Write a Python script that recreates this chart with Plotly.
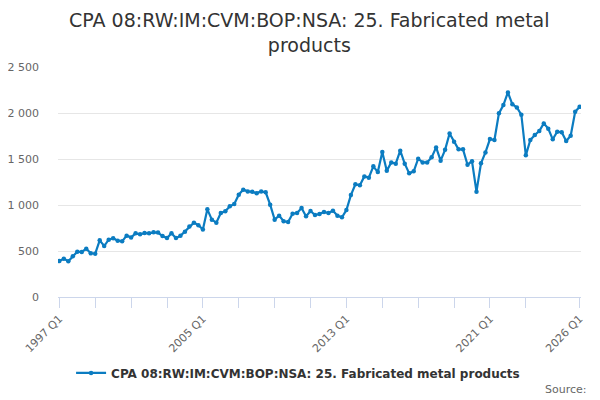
import plotly.graph_objects as go

title = "CPA 08:RW:IM:CVM:BOP:NSA: 25. Fabricated metal<br>products"
series_name = "CPA 08:RW:IM:CVM:BOP:NSA: 25. Fabricated metal products"

years = list(range(1997, 2027))
quarters = [f"{y} Q{q}" for y in years for q in range(1, 5)][:117]

values = [
    391, 417, 388, 442, 493, 489, 525, 475, 471, 616,
    554, 623, 638, 612, 605, 667, 648, 692, 681, 695,
    692, 703, 700, 662, 640, 692, 640, 665, 710, 765,
    808, 780, 734, 953, 841, 808, 913, 931, 986, 1011,
    1112, 1167, 1148, 1143, 1129, 1148, 1138, 1004, 841, 884,
    823, 815, 906, 913, 967, 877, 935, 891, 902, 924,
    913, 938, 884, 866, 945, 1108, 1226, 1215, 1311, 1297,
    1420, 1358, 1576, 1373, 1463, 1449, 1590, 1449, 1344, 1366,
    1503, 1463, 1463, 1518, 1626, 1482, 1600, 1777, 1688, 1605,
    1605, 1438, 1475, 1145, 1453, 1572, 1717, 1706, 1996, 2086,
    2224, 2094, 2061, 1981, 1540, 1706, 1761, 1804, 1887, 1830,
    1714, 1797, 1790, 1695, 1753, 2014, 2068,
]

labelled = ["1997 Q1", "2005 Q1", "2013 Q1", "2021 Q1", "2026 Q1"]
tick_quarters = quarters[0:105:8] + [quarters[-1]]
tick_text = [q if q in labelled else "" for q in tick_quarters]

font_family = "DejaVu Sans"
line_color = "#0b7cc1"

fig = go.Figure()
fig.add_trace(go.Scatter(
    x=quarters, y=values, mode="lines+markers", name=series_name,
    line=dict(color=line_color, width=2.2),
    marker=dict(color=line_color, size=4.5),
))

# page body has an 8px margin, so the figure is 592x392 to fill 600x400
fig.update_layout(
    width=592, height=392,
    margin=dict(l=50, r=19, t=59, b=103, autoexpand=False),
    paper_bgcolor="white", plot_bgcolor="white",
    separators=". ",
    font=dict(family=font_family, color="#666666", size=11),
    title=dict(
        text=title, xref="container", yref="container",
        x=0.509, xanchor="center", y=0.951, yanchor="middle",
        font=dict(family=font_family, size=19, color="#333333"),
    ),
    showlegend=True,
    legend=dict(
        orientation="h", xref="container", yref="container",
        x=0.49, xanchor="center", y=0.069, yanchor="middle",
        font=dict(family=font_family, size=12, color="#333333", weight="bold"),
    ),
    xaxis=dict(
        type="category", automargin=False,
        tickmode="array", tickvals=tick_quarters, ticktext=tick_text,
        tickangle=-45, ticks="outside", ticklen=10, tickcolor="#ccd6eb",
        showline=True, linecolor="#ccd6eb", linewidth=1,
        showgrid=False, zeroline=False,
        range=[-0.3, 116.3],
        tickfont=dict(size=11, color="#666666"),
    ),
    yaxis=dict(
        automargin=False,
        range=[0, 2500], tickvals=[0, 500, 1000, 1500, 2000, 2500],
        tickformat=",d", showgrid=True, gridcolor="#e6e6e6", gridwidth=1,
        zeroline=False, showline=False, ticks="",
        ticklabelstandoff=18,
        tickfont=dict(size=11, color="#666666"),
    ),
    annotations=[dict(
        text="Source:", xref="paper", yref="paper", x=1.0153, y=-0.404,
        xanchor="right", yanchor="middle", showarrow=False,
        font=dict(family=font_family, size=11, color="#666666"),
    )],
)

fig.write_html("out.html")
